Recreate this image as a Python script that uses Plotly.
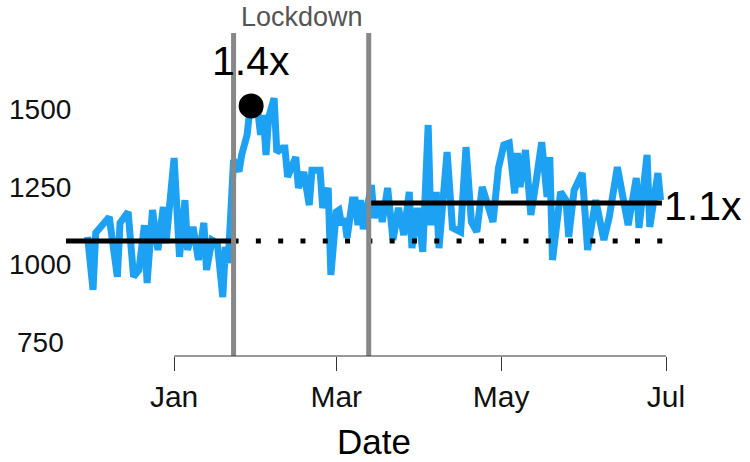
import plotly.graph_objects as go
import pandas as pd

# ---- data ----
dates = [
    "2019-11-30", "2019-12-02", "2019-12-03", "2019-12-06", "2019-12-08", "2019-12-11",
    "2019-12-12", "2019-12-15", "2019-12-17", "2019-12-19", "2019-12-21", "2019-12-22",
    "2019-12-24", "2019-12-26", "2019-12-28", "2019-12-29", "2020-01-01", "2020-01-03",
    "2020-01-05", "2020-01-06", "2020-01-08", "2020-01-10", "2020-01-12", "2020-01-13",
    "2020-01-15", "2020-01-17", "2020-01-19", "2020-01-20", "2020-01-21", "2020-01-23",
    "2020-01-25", "2020-01-26", "2020-01-28", "2020-01-29", "2020-02-01", "2020-02-02",
    "2020-02-03", "2020-02-04", "2020-02-05", "2020-02-07", "2020-02-08", "2020-02-10",
    "2020-02-11", "2020-02-12", "2020-02-15", "2020-02-16", "2020-02-18", "2020-02-20",
    "2020-02-21", "2020-02-24", "2020-02-25", "2020-02-27", "2020-02-28", "2020-03-01",
    "2020-03-02", "2020-03-03", "2020-03-04", "2020-03-05", "2020-03-07", "2020-03-08",
    "2020-03-09", "2020-03-10", "2020-03-11", "2020-03-14", "2020-03-15", "2020-03-17",
    "2020-03-18", "2020-03-20", "2020-03-22", "2020-03-24", "2020-03-26", "2020-03-28",
    "2020-03-29", "2020-03-31", "2020-04-02", "2020-04-04", "2020-04-05", "2020-04-07",
    "2020-04-08", "2020-04-11", "2020-04-13", "2020-04-16", "2020-04-18", "2020-04-20",
    "2020-04-22", "2020-04-24", "2020-04-28", "2020-04-30", "2020-05-02", "2020-05-04",
    "2020-05-06", "2020-05-07", "2020-05-08", "2020-05-10", "2020-05-12", "2020-05-14",
    "2020-05-16", "2020-05-18", "2020-05-19", "2020-05-20", "2020-05-23", "2020-05-25",
    "2020-05-26", "2020-05-28", "2020-05-31", "2020-06-02", "2020-06-05", "2020-06-08",
    "2020-06-10", "2020-06-13", "2020-06-17", "2020-06-20", "2020-06-21", "2020-06-24",
    "2020-06-25", "2020-06-28", "2020-06-29",
]
values = [
    1090, 920, 1103, 1138, 1154, 962,
    1135, 1170, 962, 984, 1128, 942,
    1176, 1048, 1186, 1070, 1343, 1026,
    1208, 1048, 1122, 1016, 1135, 984,
    1080, 1070, 897, 1058, 1006, 1337,
    1300, 1353, 1417, 1497, 1490, 1417,
    1481, 1353, 1474, 1535, 1362, 1375,
    1375, 1282, 1346, 1247, 1298, 1192,
    1304, 1304, 1183, 1247, 968, 1170,
    1176, 1128, 1151, 1087, 1208, 1208,
    1128, 1208, 1115, 1256, 1151, 1202,
    1138, 1247, 1080, 1183, 1096, 1234,
    1054, 1183, 1042, 1449, 1128, 1234,
    1054, 1362, 1119, 1106, 1378, 1138,
    1106, 1250, 1138, 1311, 1385, 1391,
    1230, 1359, 1250, 1369, 1160, 1272,
    1394, 1218, 1346, 1016, 1234, 1208,
    1090, 1240, 1295, 1048, 1208, 1080,
    1154, 1314, 1128, 1279, 1119, 1353,
    1122, 1295, 1208,
]

lockdown_dates = ["2020-01-23", "2020-03-13"]
baseline_mean = 1077
post_mean = 1199
peak_date = "2020-01-29"
peak_value = 1510
baseline_span = ["2019-11-22", "2020-01-23"]
dotted_span = ["2020-01-23", "2020-07-06"]
post_span = ["2020-03-13", "2020-06-29 12:00"]

x_tickvals = ["2020-01-01", "2020-03-01", "2020-05-01", "2020-07-01"]
x_ticktext = ["Jan", "Mar", "May", "Jul"]
y_tickvals = [750, 1000, 1250, 1500]

x_range = ["2019-11-22", "2020-07-06 22:00"]
y_range = [708, 1744]

FONT = "Liberation Sans, Arial, Helvetica, sans-serif"
BLUE = "#1da1f2"

fig = go.Figure()

fig.add_trace(go.Scatter(
    x=pd.to_datetime(dates), y=values, mode="lines",
    line=dict(color=BLUE, width=7), hoverinfo="skip", showlegend=False,
))
# baseline mean (solid) before lockdown
fig.add_trace(go.Scatter(
    x=baseline_span, y=[baseline_mean, baseline_mean], mode="lines",
    line=dict(color="black", width=5), showlegend=False,
))
# baseline continued dotted
fig.add_trace(go.Scatter(
    x=dotted_span, y=[baseline_mean, baseline_mean], mode="lines",
    line=dict(color="black", width=5, dash="5px,17.3px"), showlegend=False,
))
# post-lockdown mean
fig.add_trace(go.Scatter(
    x=post_span, y=[post_mean, post_mean], mode="lines",
    line=dict(color="black", width=5), showlegend=False,
))
# peak marker
fig.add_trace(go.Scatter(
    x=[peak_date + " 12:00"], y=[peak_value], mode="markers",
    marker=dict(color="black", size=25), showlegend=False,
))

shapes = []
for d in lockdown_dates:
    shapes.append(dict(type="line", xref="x", yref="paper", x0=d, x1=d, y0=0, y1=1,
                       line=dict(color="#888888", width=5), layer="above"))
# range-frame x axis line (Jan - Jul)
shapes.append(dict(type="line", xref="x", yref="paper", x0=x_tickvals[0], x1=x_tickvals[-1],
                   y0=0, y1=0, line=dict(color="#333333", width=1), layer="above"))

annotations = []
# y tick labels, centered like the reference
for v in y_tickvals:
    annotations.append(dict(text=str(v), x=-0.042, xref="paper", y=v, yref="y",
                            xanchor="center", yanchor="middle", showarrow=False,
                            font=dict(family=FONT, size=28, color="#111111")))
annotations.append(dict(text="Lockdown", x="2020-02-17 12:00", xref="x", y=1, yref="paper",
                        xanchor="center", yanchor="bottom", yshift=-1, showarrow=False,
                        font=dict(family=FONT, size=27, color="#555555")))
annotations.append(dict(text="1.4x", x=peak_date + " 12:00", xref="x", y=peak_value, yref="y",
                        xanchor="center", yanchor="middle", yshift=45, showarrow=False,
                        font=dict(family=FONT, size=41, color="black")))
annotations.append(dict(text="1.1x", x=post_span[1], xref="x", y=post_mean, yref="y",
                        xanchor="left", yanchor="middle", xshift=0, yshift=-3, showarrow=False,
                        font=dict(family=FONT, size=41, color="black")))
# x axis title
annotations.append(dict(text="Date", x=0.5, xref="paper", y=0, yref="paper",
                        xanchor="center", yanchor="middle", yshift=-85, showarrow=False,
                        borderpad=0, font=dict(family=FONT, size=35, color="black")))

fig.update_layout(
    width=750, height=462,
    margin=dict(l=66, r=68, t=33, b=106),
    paper_bgcolor="white", plot_bgcolor="white",
    font=dict(family=FONT, color="black"),
    shapes=shapes, annotations=annotations,
    xaxis=dict(
        type="date", range=x_range, automargin=False,
        tickvals=x_tickvals, ticktext=x_ticktext,
        ticks="outside", ticklen=14, tickwidth=1, tickcolor="#333333",
        tickfont=dict(family=FONT, size=30, color="#111111"),
        showline=False, showgrid=False, zeroline=False,
    ),
    yaxis=dict(
        range=y_range, showticklabels=False, ticks="", automargin=False,
        showline=False, showgrid=False, zeroline=False,
    ),
)

fig.write_html("out.html", config={"displayModeBar": False},
               post_script="document.body.style.margin='0';")
